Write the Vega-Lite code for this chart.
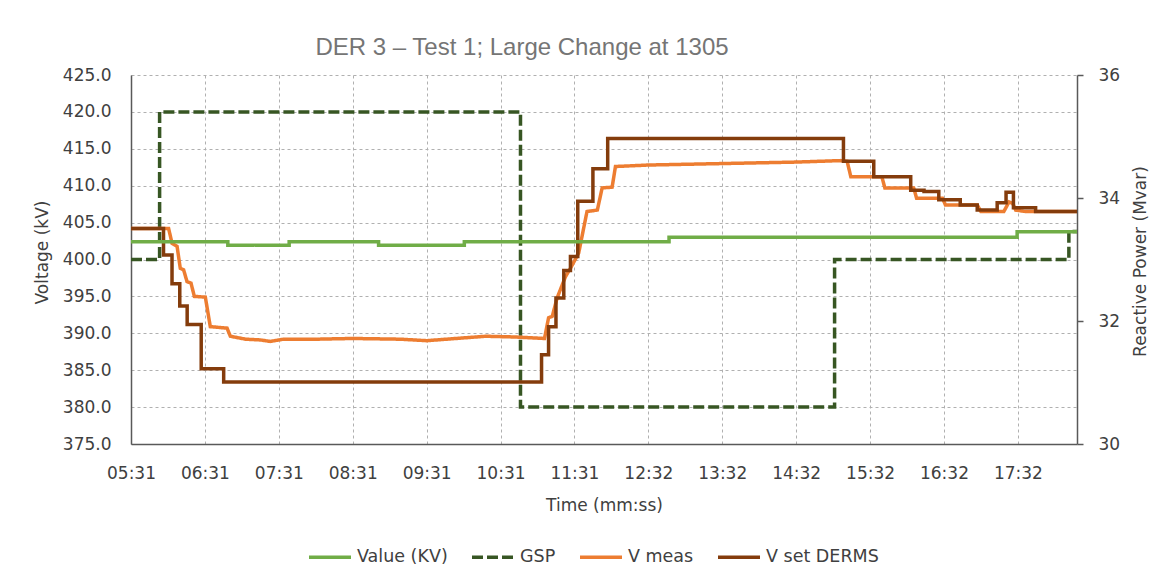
{
  "$schema": "https://vega.github.io/schema/vega-lite/v6.json",
  "width": 946,
  "height": 369,
  "autosize": {"type": "none"},
  "padding": {"left": 131, "top": 75, "right": 98, "bottom": 131},
  "background": "white",
  "title": {"text": "DER 3 – Test 1; Large Change at 1305", "font": "Liberation Sans", "fontSize": 24, "fontWeight": "normal", "color": "#757575", "anchor": "middle", "baseline": "alphabetic", "offset": 20, "dx": -82, "dy": 33},
  "config": {
    "view": {"stroke": null},
    "axis": {"labelFont": "DejaVu Sans", "labelFontSize": 17, "labelColor": "#404040", "titleFont": "DejaVu Sans", "titleFontSize": 17, "titleFontWeight": "normal", "titleColor": "#404040", "domainColor": "#595959", "domainWidth": 1.5, "gridColor": "#b0b0b0", "gridDash": [3, 3], "gridWidth": 1}
  },
  "data": {"values": [
    {"s": "GSP", "t": 0, "v": 400}, {"s": "GSP", "t": 0.387, "v": 420}, {"s": "GSP", "t": 5.27, "v": 380}, {"s": "GSP", "t": 9.52, "v": 400}, {"s": "GSP", "t": 12.69, "v": 403.8}, {"s": "GSP", "t": 12.8, "v": 403.8},
    {"s": "V set DERMS", "t": 0, "v": 404.2}, {"s": "V set DERMS", "t": 0.44, "v": 400.6}, {"s": "V set DERMS", "t": 0.555, "v": 396.7}, {"s": "V set DERMS", "t": 0.66, "v": 393.7}, {"s": "V set DERMS", "t": 0.76, "v": 391.2}, {"s": "V set DERMS", "t": 0.95, "v": 385.2}, {"s": "V set DERMS", "t": 1.254, "v": 383.4}, {"s": "V set DERMS", "t": 5.555, "v": 387.1}, {"s": "V set DERMS", "t": 5.65, "v": 390.9}, {"s": "V set DERMS", "t": 5.75, "v": 394.8}, {"s": "V set DERMS", "t": 5.856, "v": 398.5}, {"s": "V set DERMS", "t": 5.946, "v": 400.4}, {"s": "V set DERMS", "t": 6.045, "v": 407.9}, {"s": "V set DERMS", "t": 6.25, "v": 412.3}, {"s": "V set DERMS", "t": 6.45, "v": 416.4}, {"s": "V set DERMS", "t": 9.64, "v": 413.3}, {"s": "V set DERMS", "t": 10.05, "v": 411.2}, {"s": "V set DERMS", "t": 10.55, "v": 409.4}, {"s": "V set DERMS", "t": 10.73, "v": 409.2}, {"s": "V set DERMS", "t": 10.93, "v": 408.1}, {"s": "V set DERMS", "t": 11.22, "v": 407.4}, {"s": "V set DERMS", "t": 11.45, "v": 406.7}, {"s": "V set DERMS", "t": 11.72, "v": 407.7}, {"s": "V set DERMS", "t": 11.84, "v": 409.1}, {"s": "V set DERMS", "t": 11.94, "v": 407.0}, {"s": "V set DERMS", "t": 12.24, "v": 406.5}, {"s": "V set DERMS", "t": 12.8, "v": 406.5},
    {"s": "V meas", "t": 0, "v": 404.2}, {"s": "V meas", "t": 0.509, "v": 404.2}, {"s": "V meas", "t": 0.555, "v": 402.2}, {"s": "V meas", "t": 0.623, "v": 401.8}, {"s": "V meas", "t": 0.667, "v": 398.8}, {"s": "V meas", "t": 0.712, "v": 398.6}, {"s": "V meas", "t": 0.758, "v": 397.0}, {"s": "V meas", "t": 0.812, "v": 396.8}, {"s": "V meas", "t": 0.857, "v": 395.0}, {"s": "V meas", "t": 1.006, "v": 394.9}, {"s": "V meas", "t": 1.073, "v": 390.9}, {"s": "V meas", "t": 1.3, "v": 390.7}, {"s": "V meas", "t": 1.344, "v": 389.6}, {"s": "V meas", "t": 1.55, "v": 389.2}, {"s": "V meas", "t": 1.75, "v": 389.1}, {"s": "V meas", "t": 1.885, "v": 388.9}, {"s": "V meas", "t": 2.06, "v": 389.2}, {"s": "V meas", "t": 2.5, "v": 389.2}, {"s": "V meas", "t": 3.0, "v": 389.3}, {"s": "V meas", "t": 3.65, "v": 389.2}, {"s": "V meas", "t": 4.0, "v": 389.0}, {"s": "V meas", "t": 4.4, "v": 389.3}, {"s": "V meas", "t": 4.8, "v": 389.6}, {"s": "V meas", "t": 5.2, "v": 389.5}, {"s": "V meas", "t": 5.595, "v": 389.3}, {"s": "V meas", "t": 5.65, "v": 392.1}, {"s": "V meas", "t": 5.7, "v": 392.3}, {"s": "V meas", "t": 5.766, "v": 394.8}, {"s": "V meas", "t": 5.88, "v": 397.7}, {"s": "V meas", "t": 5.946, "v": 398.8}, {"s": "V meas", "t": 6.058, "v": 400.9}, {"s": "V meas", "t": 6.17, "v": 406.5}, {"s": "V meas", "t": 6.31, "v": 406.7}, {"s": "V meas", "t": 6.375, "v": 409.7}, {"s": "V meas", "t": 6.51, "v": 409.8}, {"s": "V meas", "t": 6.555, "v": 412.6}, {"s": "V meas", "t": 7.0, "v": 412.8}, {"s": "V meas", "t": 8.0, "v": 413.0}, {"s": "V meas", "t": 9.0, "v": 413.2}, {"s": "V meas", "t": 9.6, "v": 413.4}, {"s": "V meas", "t": 9.69, "v": 413.3}, {"s": "V meas", "t": 9.74, "v": 411.2}, {"s": "V meas", "t": 10.16, "v": 411.2}, {"s": "V meas", "t": 10.2, "v": 409.7}, {"s": "V meas", "t": 10.59, "v": 409.7}, {"s": "V meas", "t": 10.63, "v": 408.3}, {"s": "V meas", "t": 10.98, "v": 408.3}, {"s": "V meas", "t": 11.02, "v": 407.4}, {"s": "V meas", "t": 11.45, "v": 407.4}, {"s": "V meas", "t": 11.5, "v": 406.5}, {"s": "V meas", "t": 11.81, "v": 406.5}, {"s": "V meas", "t": 11.88, "v": 407.8}, {"s": "V meas", "t": 11.93, "v": 407.6}, {"s": "V meas", "t": 11.97, "v": 406.7}, {"s": "V meas", "t": 12.1, "v": 406.5}, {"s": "V meas", "t": 12.8, "v": 406.5},
    {"s": "Value (KV)", "t": 0, "v": 33.29}, {"s": "Value (KV)", "t": 1.31, "v": 33.23}, {"s": "Value (KV)", "t": 2.14, "v": 33.29}, {"s": "Value (KV)", "t": 3.35, "v": 33.23}, {"s": "Value (KV)", "t": 4.51, "v": 33.29}, {"s": "Value (KV)", "t": 7.28, "v": 33.36}, {"s": "Value (KV)", "t": 11.99, "v": 33.45}, {"s": "Value (KV)", "t": 12.8, "v": 33.45}
  ]},
  "encoding": {
    "x": {"field": "t", "type": "quantitative", "scale": {"domain": [0, 12.8], "nice": false, "zero": false},
      "axis": {"values": [0, 1, 2, 3, 4, 5, 6, 7, 8, 9, 10, 11, 12], "labelExpr": "['05:31','06:31','07:31','08:31','09:31','10:31','11:31','12:32','13:32','14:32','15:32','16:32','17:32'][round(datum.value)]", "title": "Time (mm:ss)", "grid": true, "ticks": false, "labelPadding": 21, "labelFlush": false, "labelOverlap": false, "titleBaseline": "alphabetic", "titleY": 66}},
    "color": {"field": "s", "type": "nominal", "scale": {"domain": ["Value (KV)", "GSP", "V meas", "V set DERMS"], "range": ["#70AD47", "#375623", "#ED7D31", "#843C0C"]},
      "legend": {"orient": "none", "legendX": 176, "legendY": 459, "direction": "horizontal", "title": null, "symbolType": "stroke", "symbolSize": 1764, "symbolStrokeWidth": 3.5, "labelFont": "DejaVu Sans", "labelFontSize": 17.5, "labelColor": "#404040", "columnPadding": 17, "labelOffset": 4}},
    "strokeDash": {"field": "s", "type": "nominal", "scale": {"domain": ["Value (KV)", "GSP", "V meas", "V set DERMS"], "range": [[1, 0], [11, 4], [1, 0], [1, 0]]},
      "legend": {"orient": "none", "legendX": 176, "legendY": 459, "direction": "horizontal", "title": null, "symbolType": "stroke", "symbolSize": 1764, "symbolStrokeWidth": 3.5, "labelFont": "DejaVu Sans", "labelFontSize": 17.5, "labelColor": "#404040", "columnPadding": 17, "labelOffset": 4}}
  },
  "layer": [
    {
      "encoding": {
        "y": {"field": "v", "type": "quantitative", "scale": {"domain": [375, 425], "nice": false, "zero": false},
          "axis": {"orient": "left", "values": [375, 380, 385, 390, 395, 400, 405, 410, 415, 420, 425], "format": ".1f", "grid": true, "ticks": false, "labelPadding": 20, "title": "Voltage (kV)", "titleAngle": -90, "titleBaseline": "middle", "titleX": -89, "titleY": 177}}
      },
      "layer": [
        {"transform": [{"filter": "datum.s === 'GSP'"}], "mark": {"type": "line", "interpolate": "step-after", "strokeWidth": 3.5, "strokeCap": "butt"}, "encoding": {}},
        {"transform": [{"filter": "datum.s === 'V meas'"}], "mark": {"type": "line", "strokeWidth": 3.5}, "encoding": {}},
        {"transform": [{"filter": "datum.s === 'V set DERMS'"}], "mark": {"type": "line", "interpolate": "step-after", "strokeWidth": 3.5}, "encoding": {}}
      ]
    },
    {
      "transform": [{"filter": "datum.s === 'Value (KV)'"}],
      "mark": {"type": "line", "interpolate": "step-after", "strokeWidth": 3.5},
      "encoding": {
        "y": {"field": "v", "type": "quantitative", "scale": {"domain": [30, 36], "nice": false, "zero": false},
          "axis": {"orient": "right", "values": [30, 32, 34, 36], "format": "d", "grid": false, "ticks": true, "tickSize": 6, "tickColor": "#595959", "tickWidth": 1.5, "labelPadding": 15, "title": "Reactive Power (Mvar)", "titleAngle": 270, "titleBaseline": "middle", "titleX": 63, "titleY": 186}}
      }
    }
  ],
  "resolve": {"scale": {"y": "independent"}}
}
